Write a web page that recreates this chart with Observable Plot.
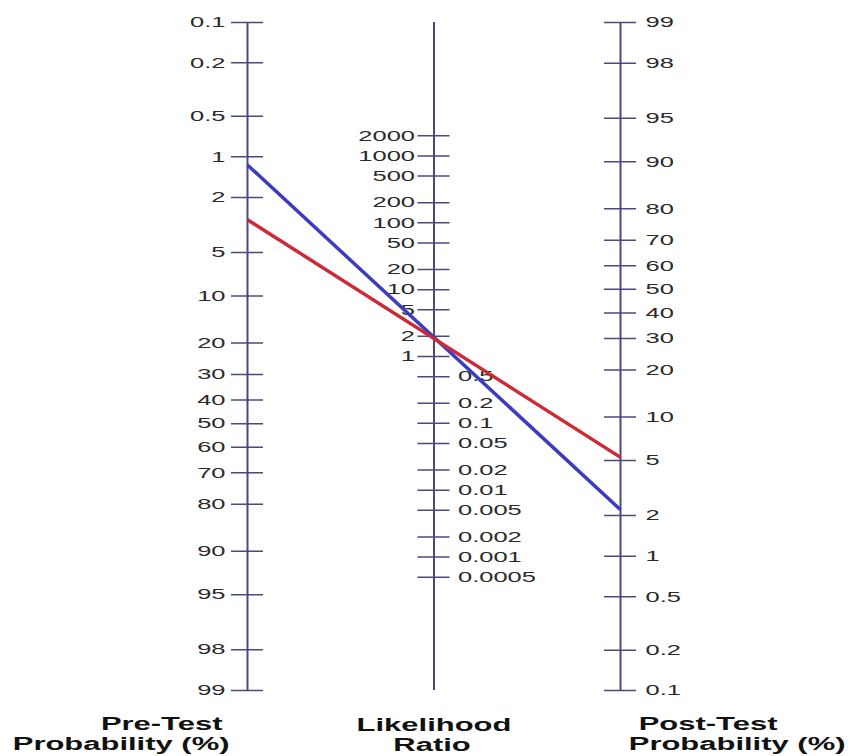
<!DOCTYPE html>
<html><head><meta charset="utf-8">
<script src="https://cdn.jsdelivr.net/npm/d3@7"></script>
<script src="https://cdn.jsdelivr.net/npm/@observablehq/plot@0.6"></script>
<style>body{margin:0;background:#fff}</style>
</head><body><div id="chart"></div>
<script>
// ---- data ----
const preTicks = [0.1,0.2,0.5,1,2,5,10,20,30,40,50,60,70,80,90,95,98,99];
const lrTicks = [2000,1000,500,200,100,50,20,10,5,2,1,0.5,0.2,0.1,0.05,0.02,0.01,0.005,0.002,0.001,0.0005];
const postTicks = [99,98,95,90,80,70,60,50,40,30,20,10,5,2,1,0.5,0.2,0.1];
const seriesNames = ["Blue", "Red"];
const preTest = [1.15, 2.9];     // %
const postTest = [2.2, 5.25];    // %
const seriesColors = ["#3c3cc2", "#cc2a36"];
const titleLeft = ["Pre-Test", "Probability (%)"];
const titleMid = ["Likelihood", "Ratio"];
const titleRight = ["Post-Test", "Probability (%)"];

// ---- nomogram geometry (left-axis logit units) ----
const logit = p => Math.log(p / (100 - p));
const LO = logit(0.1), HI = logit(99);
const posPre = p => logit(p);
const posPost = p => LO + HI - logit(p);
const posLR = lr => (LO + HI) / 2 - Math.log(lr) / 2;

const axisColor = "#4a4a80";
const tw = 0.086;
const fmt = d => String(d);
const T = {fontSize: 19, fontWeight: "bold", fill: "#111", text: d => d, y: HI};

const svg = Plot.plot({
  width: 851, height: 756,
  marginLeft: 247, marginRight: 231, marginTop: 22, marginBottom: 66,
  x: {domain: [0, 2], axis: null},
  y: {domain: [HI, LO], axis: null},
  style: {fontFamily: "'Liberation Sans', Arial, sans-serif", background: "white"},
  marks: [
    Plot.ruleX([0, 1, 2], {x: d => d, y1: LO, y2: HI, stroke: axisColor, strokeWidth: 2}),
    Plot.ruleY(preTicks, {y: posPre, x1: -tw, x2: tw, stroke: axisColor, strokeWidth: 1.5}),
    Plot.ruleY(lrTicks, {y: posLR, x1: 1 - tw, x2: 1 + tw, stroke: axisColor, strokeWidth: 1.5}),
    Plot.ruleY(postTicks, {y: posPost, x1: 2 - tw, x2: 2 + tw, stroke: axisColor, strokeWidth: 1.5}),
    Plot.text(preTicks, {x: 0, y: posPre, text: fmt, dx: -22, textAnchor: "end", fontSize: 15, fill: "#2a2a2a"}),
    Plot.text(lrTicks.filter(d => d >= 1), {x: 1, y: posLR, text: fmt, dx: -19, textAnchor: "end", fontSize: 15, fill: "#2a2a2a"}),
    Plot.text(lrTicks.filter(d => d < 1), {x: 1, y: posLR, text: fmt, dx: 24, textAnchor: "start", fontSize: 15, fill: "#2a2a2a"}),
    Plot.text(postTicks, {x: 2, y: posPost, text: fmt, dx: 25, textAnchor: "start", fontSize: 15, fill: "#2a2a2a"}),
    ...seriesNames.map((name, i) => Plot.link([name], {
      x1: 0, y1: () => posPre(preTest[i]), x2: 2, y2: () => posPost(postTest[i]),
      stroke: seriesColors[i], strokeWidth: 3.5
    })),
    Plot.text([titleLeft[0]], {...T, x: 0, dx: -25, dy: 33, textAnchor: "end"}),
    Plot.text([titleLeft[1]], {...T, x: 0, dx: -18, dy: 53, textAnchor: "end"}),
    Plot.text([titleMid[0]], {...T, x: 1, dx: 0, dy: 34, textAnchor: "middle"}),
    Plot.text([titleMid[1]], {...T, x: 1, dx: -2, dy: 54, textAnchor: "middle"}),
    Plot.text([titleRight[0]], {...T, x: 2, dx: 157, dy: 33, textAnchor: "end"}),
    Plot.text([titleRight[1]], {...T, x: 2, dx: 225, dy: 53, textAnchor: "end"})
  ]
});

// horizontally widen the text, as in the reference's stretched bitmap font
d3.select(svg).selectAll("text").each(function() {
  const g = this.closest("g");
  const bold = g && g.getAttribute("font-weight") === "bold";
  const s = bold ? 1.63 : 1.7;
  const t = this.getAttribute("transform");
  if (t) {
    this.setAttribute("transform", t + ` scale(${s},1)`);
  } else {
    const x = +this.getAttribute("x") || 0, y = +this.getAttribute("y") || 0;
    this.removeAttribute("x"); this.removeAttribute("y");
    this.setAttribute("transform", `translate(${x},${y}) scale(${s},1)`);
  }
});

document.getElementById("chart").appendChild(svg);
</script>
</body></html>
